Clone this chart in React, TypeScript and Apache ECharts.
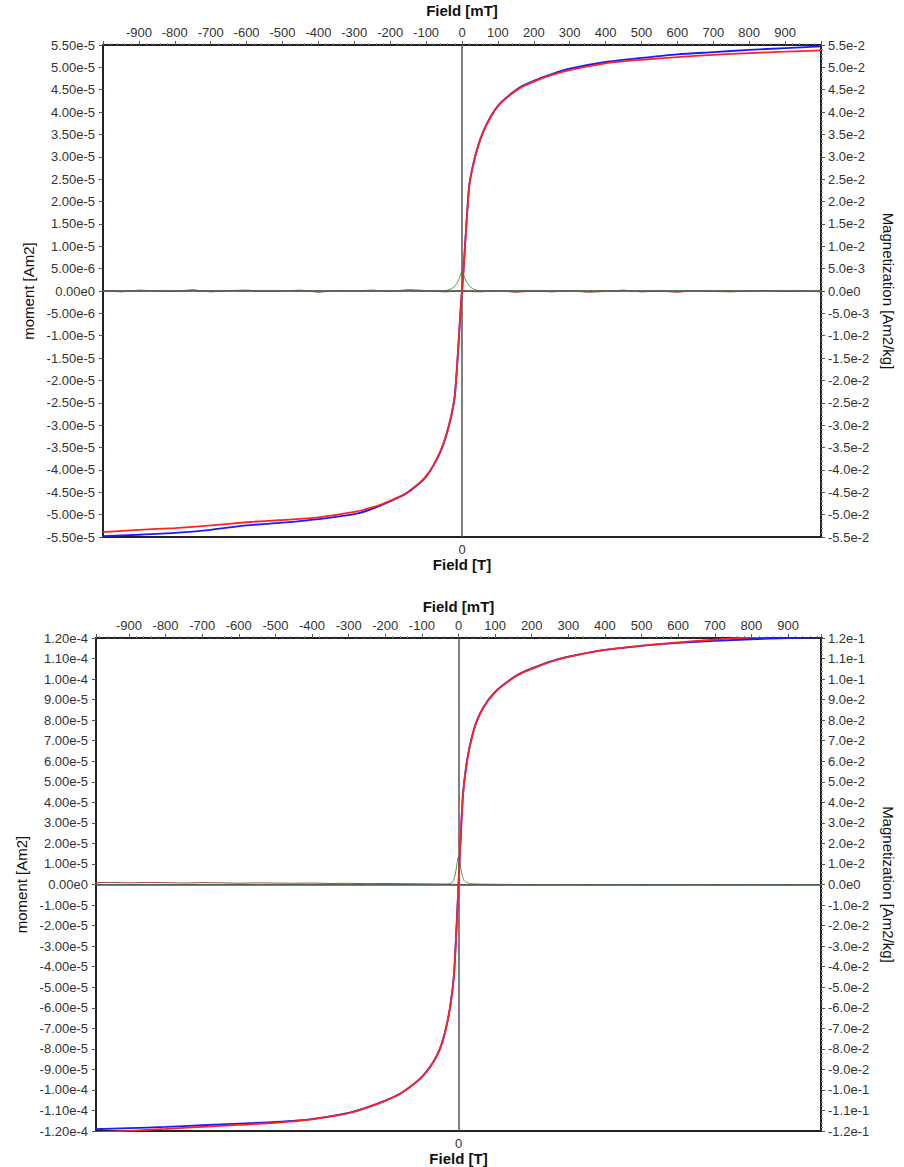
import React, { useEffect, useRef } from "react";
import * as echarts from "echarts";

// unit of the moment values below (Am2)
const U = 1e-6;

// ---------- field values (mT) ----------
const fieldMain = [
  -1000, -900, -800, -700, -600, -500, -400, -300, -250, -200, -160, -120, -100, -80, -60, -45, -30, -20, -12, -6, -3,
  0, 3, 6, 12, 20, 30, 45, 60, 80, 100, 120, 160, 200, 250, 300, 400, 500, 600, 700, 800, 900, 1000,
];

// ---------- top sample (moment, x1e-6 Am2) ----------
const topBlue = [
  -54.8, -54.5, -54.1, -53.4, -52.4, -51.8, -51.0, -49.9, -48.7, -47.0, -45.5, -43.1, -41.5, -39.1, -35.9, -32.6, -28.0, -23.4, -14.8, -7.0, -3.2,
  0.3, 3.3, 7.0, 14.7, 23.5, 27.9, 32.5, 35.8, 39.0, 41.4, 43.0, 45.5, 47.0, 48.5, 49.7, 51.2, 52.1, 52.9, 53.4, 53.9, 54.3, 54.7,
];
const topRed = [
  -53.9, -53.4, -53.0, -52.4, -51.7, -51.2, -50.6, -49.4, -48.4, -46.9, -45.4, -43.0, -41.4, -39.0, -35.8, -32.5, -27.9, -23.3, -14.6, -6.8, -3.1,
  0.0, 3.1, 6.8, 14.5, 23.2, 27.8, 32.4, 35.7, 38.9, 41.3, 42.9, 45.3, 46.8, 48.3, 49.4, 50.9, 51.7, 52.3, 52.8, 53.2, 53.5, 53.8,
];
const topGreenField = [-1000, -200, -60, -45, -30, -20, -12, -6, -3, 0, 3, 6, 12, 20, 30, 45, 60, 200, 1000];
const topGreen = [0, 0, 0, 0.1, 0.5, 1.1, 2.0, 3.2, 3.9, 4.5, 4.1, 3.2, 2.2, 1.2, 0.5, 0.1, 0, 0, 0];

// ---------- bottom sample (moment, x1e-6 Am2) ----------
const botBlue = [
  -119.2, -118.6, -118.0, -117.2, -116.4, -115.6, -114.2, -111.2, -108.5, -105.2, -101.9, -96.8, -93.6, -89.4, -83.6, -77.1, -66.6, -56.1, -43.1, -23.0, -12.0,
  0.3, 12.2, 23.3, 43.2, 56.3, 66.7, 77.2, 83.7, 89.6, 93.8, 96.9, 102.0, 105.2, 108.5, 110.9, 114.2, 116.2, 117.6, 118.6, 119.4, 120.0, 120.5,
];
const botRed = [
  -120.7, -119.9, -119.0, -118.0, -117.0, -116.0, -114.3, -111.3, -108.6, -105.3, -102.0, -96.9, -93.7, -89.5, -83.7, -77.2, -66.7, -56.2, -43.2, -23.0, -12.0,
  0.0, 12.0, 23.0, 43.0, 56.0, 66.5, 77.0, 83.5, 89.3, 93.5, 96.7, 101.8, 105.0, 108.4, 110.8, 114.2, 116.3, 117.9, 119.2, 120.3, 121.2, 122.0,
];
const botGreenField = [-1000, -200, -40, -25, -15, -10, -5, -2, 0, 2, 5, 10, 15, 25, 40, 200, 1000];
const botGreen = [0, 0, 0.1, 0.4, 1.5, 4.0, 9.0, 12.5, 13.6, 12.5, 9.5, 4.5, 2.0, 0.8, 0.3, 0, 0];

// ---------- residual traces near zero ----------
const resField = [
  -1000, -950, -900, -850, -800, -750, -700, -650, -600, -550, -500, -450, -400, -350, -300, -250, -200, -150, -100, -50,
  0, 50, 100, 150, 200, 250, 300, 350, 400, 450, 500, 550, 600, 650, 700, 750, 800, 850, 900, 950, 1000,
];
const topRes = [
  0.1, -0.2, 0.2, 0.0, -0.1, 0.3, -0.2, 0.1, 0.2, -0.1, 0.0, 0.2, -0.3, 0.1, 0.0, 0.2, -0.1, 0.3, 0.1, -0.2,
  0.0, -0.2, 0.1, -0.3, 0.0, -0.2, 0.1, -0.3, -0.1, 0.2, -0.2, 0.0, -0.3, 0.1, -0.1, -0.2, 0.0, 0.1, -0.1, 0.0, -0.2,
];
const botRes = [
  0.9, 1.0, 0.8, 1.0, 0.9, 0.7, 0.9, 0.8, 0.6, 0.8, 0.7, 0.6, 0.7, 0.5, 0.6, 0.4, 0.5, 0.4, 0.3, 0.2,
  0.0, -0.1, -0.2, -0.1, -0.3, -0.2, -0.1, -0.3, -0.2, -0.1, -0.3, -0.2, -0.2, -0.1, -0.3, -0.2, -0.1, -0.2, -0.3, -0.1, -0.2,
];
const baseField = [-1000, 1000];
const baseVals = [0, 0];

// ---------- axis ranges ----------
const topMomentMax = 5.5e-5;
const topMomentStep = 5e-6;
const topMagMax = 5.5e-2;
const topMagStep = 5e-3;
const botMomentMax = 1.2e-4;
const botMomentStep = 1e-5;
const botMagMax = 1.2e-1;
const botMagStep = 1e-2;

const FONT = "'Liberation Sans', Arial, sans-serif";

const pairs = (xs: number[], ys: number[]) => xs.map((x, i) => [x, ys[i] * U]);

const fmtE = (d: number) => (v: number) => {
  let x = v;
  if (Math.abs(x) < 1e-12) x = 0;
  return x.toExponential(d).replace("e+", "e");
};

const mtLabel = (v: number) => (Math.abs(v) >= 950 ? "" : String(Math.round(v)));

function buildOption() {
  const labelStyle = { fontSize: 13, color: "#333", fontFamily: FONT };
  const nameBold = { fontSize: 15, fontWeight: "bold", color: "#111", fontFamily: FONT };
  const nameNorm = { fontSize: 15, color: "#111", fontFamily: FONT };
  const tick = { show: true, length: 4, lineStyle: { color: "#555", width: 1 } };
  const noLine = { show: false, onZero: false };

  const xTop = (grid: number, range: number, useInterval: boolean, gap: number) => ({
    type: "value",
    gridIndex: grid,
    position: "top",
    min: -range,
    max: range,
    ...(useInterval ? { interval: 100 } : { splitNumber: 20 }),
    name: "Field [mT]",
    nameLocation: "middle",
    nameGap: gap,
    nameTextStyle: nameBold,
    axisLine: noLine,
    axisTick: tick,
    minorTick: { show: true, splitNumber: 5, length: 2, lineStyle: { color: "#888" } },
    splitLine: { show: false },
    minorSplitLine: { show: false },
    axisLabel: { ...labelStyle, margin: 6, formatter: mtLabel },
  });
  const xBot = (grid: number, range: number, useInterval: boolean) => ({
    type: "value",
    gridIndex: grid,
    position: "bottom",
    min: -range,
    max: range,
    ...(useInterval ? { interval: 100 } : { splitNumber: 20 }),
    name: "Field [T]",
    nameLocation: "middle",
    nameGap: 20,
    nameTextStyle: nameBold,
    axisLine: noLine,
    axisTick: { show: false },
    splitLine: { show: false },
    axisLabel: { ...labelStyle, margin: 6, formatter: (v: number) => (Math.abs(v) < 1e-9 ? "0" : "") },
  });
  const yLeft = (grid: number, max: number, step: number) => ({
    type: "value",
    gridIndex: grid,
    position: "left",
    min: -max,
    max: max,
    interval: step,
    name: "moment [Am2]",
    nameLocation: "middle",
    nameGap: 66,
    nameTextStyle: nameNorm,
    axisLine: noLine,
    axisTick: tick,
    splitLine: { show: false },
    axisLabel: { ...labelStyle, margin: 8, formatter: fmtE(2) },
  });
  const yRight = (grid: number, max: number, step: number) => ({
    type: "value",
    gridIndex: grid,
    position: "right",
    min: -max,
    max: max,
    interval: step,
    name: "Magnetization [Am2/kg]",
    nameLocation: "middle",
    nameRotate: -90,
    nameGap: 60,
    nameTextStyle: nameNorm,
    axisLine: noLine,
    axisTick: tick,
    minorTick: { show: true, splitNumber: 5, length: 2, lineStyle: { color: "#888" } },
    splitLine: { show: false },
    minorSplitLine: { show: false },
    axisLabel: { ...labelStyle, margin: 7, formatter: fmtE(1) },
  });

  const line = (xi: number, yi: number, data: number[][], color: string, width: number, z: number, extra: any = {}) => ({
    type: "line",
    xAxisIndex: xi,
    yAxisIndex: yi,
    data,
    symbol: "none",
    showSymbol: false,
    silent: true,
    smooth: extra.smooth ?? false,
    z,
    lineStyle: { color, width, ...(extra.lineStyle || {}) },
    ...(extra.markLine ? { markLine: extra.markLine } : {}),
  });

  const zeroLines = {
    silent: true,
    symbol: ["none", "none"],
    label: { show: false },
    lineStyle: { color: "#555", width: 1.5, type: "solid" },
    data: [{ xAxis: 0 }, { yAxis: 0 }],
  };

  return {
    animation: false,
    backgroundColor: "#fff",
    textStyle: { fontFamily: FONT },
    grid: [
      { left: 103, top: 45, width: 725, height: 492, show: true, borderColor: "#222", borderWidth: 2, backgroundColor: "#fff" },
      { left: 96, top: 638, width: 726, height: 493, show: true, borderColor: "#222", borderWidth: 2, backgroundColor: "#fff" },
    ],
    xAxis: [xTop(0, 1000, true, 27), xBot(0, 1000, true), xTop(1, 990, false, 24), xBot(1, 990, false)],
    yAxis: [
      yLeft(0, topMomentMax, topMomentStep),
      yRight(0, topMagMax, topMagStep),
      yLeft(1, botMomentMax, botMomentStep),
      yRight(1, botMagMax, botMagStep),
    ],
    series: [
      // top chart
      line(0, 0, pairs(baseField, baseVals), "#2a6a2a", 1, 1, { lineStyle: { type: "dashed" }, markLine: zeroLines }),
      line(0, 0, pairs(resField, topRes), "#a04848", 1, 2),
      line(0, 0, pairs(topGreenField, topGreen), "#3aa83a", 1, 3, { smooth: 0.25 }),
      line(0, 0, pairs(fieldMain, topBlue), "#1a1aff", 1.8, 4, { smooth: 0.25 }),
      line(0, 0, pairs(fieldMain, topRed), "#ff2222", 1.8, 5, { smooth: 0.25 }),
      // bottom chart
      line(2, 2, pairs(baseField, baseVals), "#2a6a2a", 1, 1, { lineStyle: { type: "dashed" }, markLine: zeroLines }),
      line(2, 2, pairs(resField, botRes), "#a04848", 1, 2),
      line(2, 2, pairs(botGreenField, botGreen), "#3aa83a", 1, 3, { smooth: 0.25 }),
      line(2, 2, pairs(fieldMain, botBlue), "#1a1aff", 1.8, 4, { smooth: 0.25 }),
      line(2, 2, pairs(fieldMain, botRed), "#ff2222", 1.8, 5, { smooth: 0.25 }),
    ],
  };
}

export default function App() {
  const ref = useRef<HTMLDivElement>(null);
  useEffect(() => {
    if (!ref.current) return;
    const chart = echarts.init(ref.current, null, { renderer: "svg" });
    chart.setOption(buildOption() as any);
    return () => chart.dispose();
  }, []);
  return (
    <div
      ref={ref}
      style={{ position: "absolute", left: 0, top: 0, width: 904, height: 1167, background: "#fff" }}
    />
  );
}
